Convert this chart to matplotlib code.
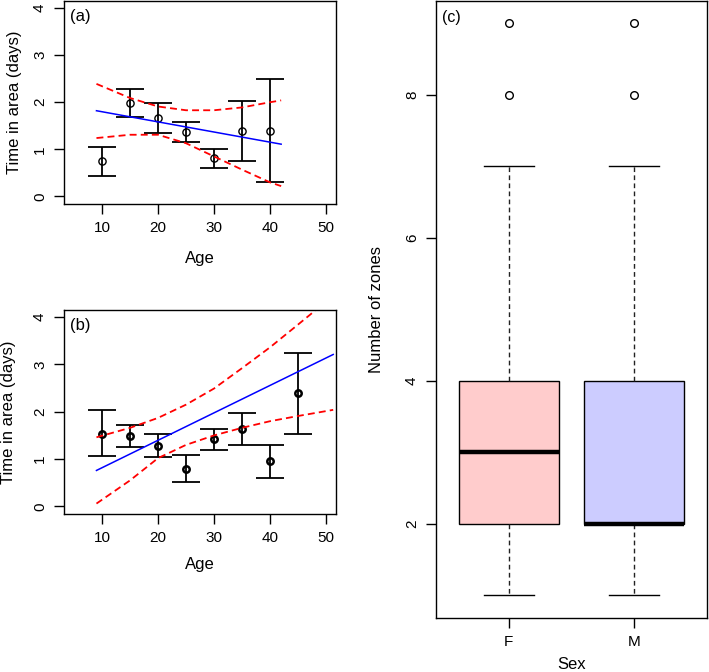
import matplotlib
matplotlib.use('Agg')
import matplotlib.pyplot as plt

plt.rcParams['font.family'] = ['Liberation Sans', 'DejaVu Sans']
plt.rcParams['lines.scale_dashes'] = False

# (a) time in area by age
age_a = [10, 15, 20, 25, 30, 35, 40]
time_a = [0.75, 1.98, 1.66, 1.36, 0.81, 1.39, 1.39]
low_a = [0.44, 1.68, 1.35, 1.15, 0.61, 0.76, 0.30]
high_a = [1.05, 2.28, 1.99, 1.58, 1.01, 2.02, 2.49]
fit_x_a = [9, 42]
fit_y_a = [1.82, 1.11]
band_x_a = [9, 15, 20, 25, 30, 35, 40, 42]
band_up_a = [2.39, 2.09, 1.91, 1.83, 1.83, 1.89, 2.00, 2.04]
band_lo_a = [1.24, 1.31, 1.31, 1.13, 0.85, 0.57, 0.30, 0.22]

# (b)
age_b = [10, 15, 20, 25, 30, 35, 40, 45]
time_b = [1.54, 1.48, 1.28, 0.79, 1.42, 1.63, 0.95, 2.39]
low_b = [1.06, 1.26, 1.04, 0.51, 1.20, 1.29, 0.61, 1.54]
high_b = [2.04, 1.71, 1.53, 1.09, 1.64, 1.97, 1.29, 3.24]
fit_x_b = [9, 51.3]
fit_y_b = [0.76, 3.21]
band_x_b = [9, 15, 20, 25, 30, 35, 40, 45, 51.3]
band_up_b = [1.46, 1.66, 1.87, 2.15, 2.49, 2.92, 3.36, 3.84, 4.45]
band_lo_b = [0.06, 0.55, 1.02, 1.30, 1.50, 1.66, 1.80, 1.91, 2.04]

# (c) number of zones by sex
sex = ['F', 'M']
q1 = [2, 2]
med = [3, 2]
q3 = [4, 4]
whislo = [1, 1]
whishi = [7, 7]
outliers = [[8, 9], [8, 9]]
box_cols = ['#ffcccc', '#ccccff']

W, H = 709, 672
fig = plt.figure(figsize=(W / 100, H / 100), dpi=100)

def px_axes(left, top, right, bottom):
    return fig.add_axes([left / W, 1 - bottom / H, (right - left) / W, (bottom - top) / H])

ax1 = px_axes(64, 0.5, 336, 204)
ax2 = px_axes(64, 309.5, 336, 514)
ax3 = px_axes(436, 0.6, 707, 618)

def style(ax):
    for s in ax.spines.values():
        s.set_linewidth(1.0)
    ax.tick_params(length=7.2, width=1.0, labelsize=11, pad=5)
    ax.tick_params(axis='y', labelrotation=90)
    for t in ax.get_yticklabels():
        t.set_va('center')

def age_panel(ax, x, y, lo, hi, fx, fy, bx, bu, bl, tag, tag_y, mew, ms, ylab_x, xlab_y):
    ax.vlines(x, lo, hi, color='black', lw=1.3)
    ax.hlines(lo, [a - 2.5 for a in x], [a + 2.5 for a in x], color='black', lw=1.3)
    ax.hlines(hi, [a - 2.5 for a in x], [a + 2.5 for a in x], color='black', lw=1.3)
    ax.plot(x, y, 'o', mfc='none', mec='black', ms=ms, mew=mew)
    ax.plot(fx, fy, color='#0000ff', lw=1.1)
    ax.plot(bx, bu, color='#ff0000', lw=1.3, dashes=(5, 3))
    ax.plot(bx, bl, color='#ff0000', lw=1.3, dashes=(5, 3))
    ax.set_xlim(3.2, 51.8)
    ax.set_ylim(-0.16, 4.16)
    ax.set_xticks([10, 20, 30, 40, 50])
    ax.set_yticks([0, 1, 2, 3, 4])
    ax.set_xlabel('Age', fontsize=12, va='center')
    ax.set_ylabel('Time in area (days)', fontsize=12, va='center')
    ax.xaxis.set_label_coords(0.5, xlab_y)
    ax.yaxis.set_label_coords(ylab_x, 0.5)
    ax.text(0.022, tag_y, tag, transform=ax.transAxes, fontsize=12, va='center', ha='left')
    style(ax)

age_panel(ax1, age_a, time_a, low_a, high_a, fit_x_a, fit_y_a,
          band_x_a, band_up_a, band_lo_a, '(a)', 0.921, 1.0, 5.2, -0.182, -0.268)
age_panel(ax2, age_b, time_b, low_b, high_b, fit_x_b, fit_y_b,
          band_x_b, band_up_b, band_lo_b, '(b)', 0.924, 1.8, 4.6, -0.205, -0.247)

stats = []
for i in range(len(sex)):
    stats.append(dict(label=sex[i], q1=q1[i], med=med[i], q3=q3[i],
                      whislo=whislo[i], whishi=whishi[i], fliers=outliers[i]))
bp = ax3.bxp(stats, positions=[1, 2], widths=0.8, capwidths=0.4, patch_artist=True,
             boxprops=dict(edgecolor='black', lw=1.0),
             whiskerprops=dict(color='#222222', lw=1.0, dashes=(3.4, 2.4)),
             capprops=dict(color='black', lw=1.0),
             medianprops=dict(color='black', lw=3.2, solid_capstyle='butt'),
             flierprops=dict(marker='o', mfc='none', mec='black', ms=5.5, mew=1.0))
for patch, c in zip(bp['boxes'], box_cols):
    patch.set_facecolor(c)
ax3.set_xlim(0.42, 2.58)
ax3.set_ylim(0.68, 9.32)
ax3.set_yticks([2, 4, 6, 8])
ax3.set_xticks([1, 2])
ax3.set_xticklabels(sex)
ax3.set_xlabel('Sex', fontsize=12, va='center')
ax3.set_ylabel('Number of zones', fontsize=12, va='center')
ax3.xaxis.set_label_coords(0.5, -0.076)
ax3.yaxis.set_label_coords(-0.220, 0.5)
ax3.text(0.022, 0.973, '(c)', transform=ax3.transAxes, fontsize=11.5, va='center', ha='left')
style(ax3)

fig.savefig('out.png', dpi=100)
